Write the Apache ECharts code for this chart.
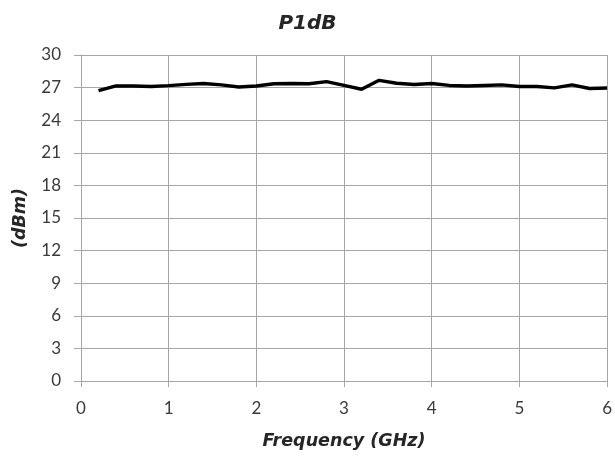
<!DOCTYPE html>
<html><head><meta charset="utf-8">
<script src="https://cdn.jsdelivr.net/npm/echarts@6/dist/echarts.min.js"></script>
<style>html,body{margin:0;padding:0;background:#fff}#c{width:615px;height:460px}</style>
</head><body><div id="c"></div>
<script>
const freqGHz = [0.2,0.4,0.6,0.8,1.0,1.2,1.4,1.6,1.8,2.0,2.2,2.4,2.6,2.8,3.0,3.2,3.4,3.6,3.8,4.0,4.2,4.4,4.6,4.8,5.0,5.2,5.4,5.6,5.8,6.0];
const p1dB = [26.72,27.16,27.15,27.1,27.18,27.3,27.38,27.25,27.05,27.15,27.35,27.38,27.35,27.55,27.2,26.85,27.67,27.4,27.28,27.38,27.2,27.15,27.2,27.25,27.1,27.1,26.97,27.25,26.92,26.97];
const xTicks = [0,1,2,3,4,5,6];
const yTicks = [0,3,6,9,12,15,18,21,24,27,30];

const chart = echarts.init(document.getElementById('c'), null, {renderer:'canvas'});
const gridColor = '#a6a6a6';
const labelColor = '#3a3a3a';
const nameStyle = {fontFamily:'DejaVu Sans', fontStyle:'italic', fontWeight:'bold', fontSize:17.5, color:'#262626'};
chart.setOption({
  animation:false,
  title:{text:'P1dB', left:'center', top:9,
    textStyle:{fontFamily:'DejaVu Sans', fontStyle:'italic', fontWeight:'bold', fontSize:20, color:'#262626'}},
  grid:{left:81, right:5, top:55, bottom:79},
  xAxis:{type:'value', min:xTicks[0], max:xTicks[xTicks.length-1], interval:1,
    name:'Frequency (GHz)', nameLocation:'middle', nameGap:51,
    nameTextStyle:nameStyle,
    axisLine:{show:true, lineStyle:{color:gridColor, width:1}},
    axisTick:{show:true, inside:false, length:6, lineStyle:{color:gridColor}},
    axisLabel:{fontFamily:'Lato', fontSize:17, color:labelColor, margin:19},
    splitLine:{show:true, lineStyle:{color:gridColor, width:1}}},
  yAxis:{type:'value', min:yTicks[0], max:yTicks[yTicks.length-1], interval:3,
    name:'(dBm)', nameLocation:'middle', nameGap:52, nameRotate:90,
    nameTextStyle:nameStyle,
    axisLine:{show:true, lineStyle:{color:gridColor, width:1}},
    axisTick:{show:true, inside:false, length:7, lineStyle:{color:gridColor}},
    axisLabel:{fontFamily:'Lato', fontSize:17, color:labelColor, margin:20},
    splitLine:{show:true, lineStyle:{color:gridColor, width:1}}},
  series:[{type:'line', data:freqGHz.map((f,i)=>[f,p1dB[i]]), showSymbol:false,
    lineStyle:{color:'#000', width:3.4}, itemStyle:{color:'#000'}}]
});
</script></body></html>
